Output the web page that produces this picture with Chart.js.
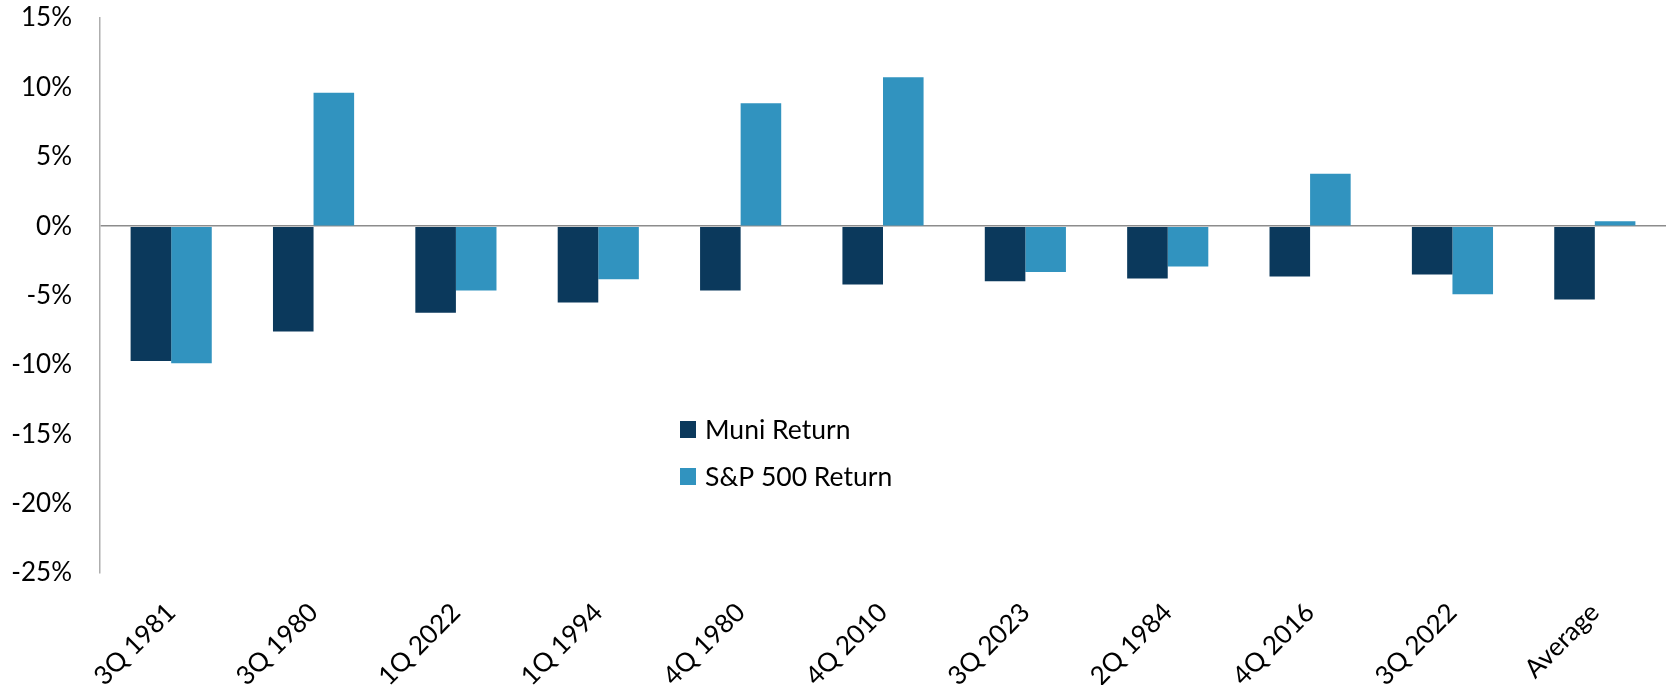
<!DOCTYPE html>
<html>
<head>
<meta charset="utf-8">
<script src="https://cdn.jsdelivr.net/npm/chart.js@4.4.1/dist/chart.umd.min.js"></script>
<style>
  html, body { margin: 0; padding: 0; background: #ffffff; }
  #wrap { width: 1669px; height: 685px; position: relative; }
</style>
</head>
<body>
<div id="wrap"><canvas id="c" width="1669" height="685"></canvas></div>
<script>
const categories = ["3Q 1981", "3Q 1980", "1Q 2022", "1Q 1994", "4Q 1980", "4Q 2010", "3Q 2023", "2Q 1984", "4Q 2016", "3Q 2022", "Average"];
const muniReturn = [-9.72, -7.6, -6.25, -5.5, -4.64, -4.21, -3.97, -3.77, -3.63, -3.49, -5.28];
const sp500Return = [-9.88, 9.62, -4.64, -3.82, 8.85, 10.73, -3.3, -2.91, 3.78, -4.91, 0.35];
const seriesNames = ["Muni Return", "S&P 500 Return"];
const yTicks = [15, 10, 5, 0, -5, -10, -15, -20, -25];

const FONT = "Lato, 'Open Sans', sans-serif";
const COLORS = ["#0B395C", "#3193BF"];

const insideLegend = {
  id: 'insideLegend',
  afterDraw(chart) {
    const ctx = chart.ctx;
    ctx.save();
    ctx.font = "26.5px " + FONT;
    ctx.textBaseline = 'middle';
    ctx.textAlign = 'left';
    chart.data.datasets.forEach((ds, i) => {
      const bx = 680, by = 421 + i * 47;
      ctx.fillStyle = ds.backgroundColor;
      ctx.fillRect(bx, by, 16, 17);
      ctx.fillStyle = '#000000';
      ctx.fillText(ds.label, bx + 25, by + 9);
    });
    ctx.restore();
  }
};

new Chart(document.getElementById('c'), {
  type: 'bar',
  data: {
    labels: categories,
    datasets: [
      { label: seriesNames[0], data: muniReturn, backgroundColor: COLORS[0], borderWidth: 0 },
      { label: seriesNames[1], data: sp500Return, backgroundColor: COLORS[1], borderWidth: 0 }
    ]
  },
  options: {
    responsive: false,
    animation: false,
    layout: { padding: { top: 18, right: 3, left: 0, bottom: 0 } },
    datasets: { bar: { categoryPercentage: 0.57, barPercentage: 1.0 } },
    plugins: {
      legend: { display: false },
      tooltip: { enabled: false }
    },
    scales: {
      x: {
        grid: { display: false },
        border: { display: false },
        ticks: {
          autoSkip: false,
          maxRotation: 45,
          minRotation: 45,
          padding: 16,
          color: '#000000',
          font: { family: FONT, size: 26 }
        },
        afterFit(scale) { scale.height = 112; }
      },
      y: {
        min: -25,
        max: 15,
        afterBuildTicks(scale) { scale.ticks = yTicks.map(v => ({ value: v })); },
        grid: {
          drawTicks: false,
          color: (c) => (c.tick && c.tick.value === 0) ? '#8C8C8C' : 'rgba(0,0,0,0)',
          lineWidth: 1.5
        },
        border: { display: true, color: '#AEAEAE', width: 1.5 },
        ticks: {
          padding: 28,
          color: '#000000',
          font: { family: FONT, size: 26 },
          callback: (v) => v + '%'
        },
        afterFit(scale) { scale.width = 100; scale.paddingTop = 0; scale.paddingBottom = 0; }
      }
    }
  },
  plugins: [insideLegend]
});
</script>
</body>
</html>
